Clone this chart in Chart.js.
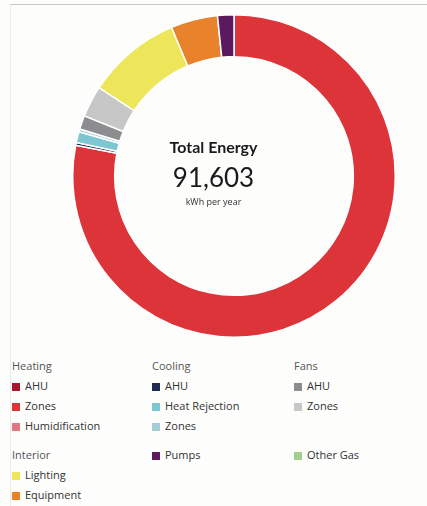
<!DOCTYPE html>
<html>
<head>
<meta charset="utf-8">
<script src="https://cdn.jsdelivr.net/npm/chart.js@4"></script>
<style>
  html, body { margin:0; padding:0; background:#fdfdfc; }
  body { width:427px; height:506px; position:relative; overflow:hidden; font-family:"Open Sans", "Noto Sans", sans-serif; }
  .frame { position:absolute; left:10px; top:4px; width:417px; height:502px; border-top:1px solid #c9c9c9; border-left:1px solid #ececec; }
  #wrap { position:absolute; left:72px; top:14px; width:324px; height:324px; }
  .center { position:absolute; left:0; width:427px; text-align:center; color:#1a1a1a; }
  .t1 { top:137px; font-family:Lato, "Open Sans", sans-serif; font-weight:700; font-size:16px; }
  .t2 { top:161px; font-family:Lato, "Open Sans", sans-serif; font-weight:400; font-size:26px; line-height:32px; }
  .t3 { top:195px; font-size:9px; color:#333; }
  .lg { position:absolute; font-size:11px; color:#333; white-space:nowrap; line-height:14px; }
  .hd { color:#555; }
  .sw { display:inline-block; width:8px; height:8px; margin-right:5px; vertical-align:-0.5px; }
</style>
</head>
<body>
<div class="frame"></div>
<div id="wrap"><canvas id="c"></canvas></div>
<div class="center t1">Total Energy</div>
<div class="center t2">91,603</div>
<div class="center t3">kWh per year</div>
<div id="legend"></div>
<script>
const categories = ["Heating AHU","Heating Zones","Humidification","Cooling AHU","Heat Rejection","Cooling Zones","Fans AHU","Fans Zones","Lighting","Equipment","Pumps","Other Gas"];
const values = [0, 71508, 0, 250, 1000, 250, 1270, 2875, 8650, 4300, 1500, 0];
const colors = ["#a3192b","#dc3439","#e17783","#1e2a50","#7ec6d2","#a5cdd6","#8d8d8f","#c7c7c7","#ede65a","#e8832c","#5b1a5f","#9fd08f"];

const legendGroups = [
  {title:"Heating", x:12, y:359, items:[["AHU",0],["Zones",1],["Humidification",2]]},
  {title:"Cooling", x:152, y:359, items:[["AHU",3],["Heat Rejection",4],["Zones",5]]},
  {title:"Fans", x:294, y:359, items:[["AHU",6],["Zones",7]]},
  {title:"Interior", x:12, y:448, items:[["Lighting",8],["Equipment",9]]},
  {title:null, x:152, y:448, items:[["Pumps",10]]},
  {title:null, x:294, y:448, items:[["Other Gas",11]]}
];
const lg = document.getElementById('legend');
legendGroups.forEach(g => {
  let y = g.y;
  if (g.title) {
    const d = document.createElement('div');
    d.className = 'lg hd'; d.style.left = g.x + 'px'; d.style.top = y + 'px';
    d.textContent = g.title; lg.appendChild(d);
    y += 20;
  }
  g.items.forEach(([label, idx]) => {
    const d = document.createElement('div');
    d.className = 'lg'; d.style.left = g.x + 'px'; d.style.top = y + 'px';
    d.innerHTML = '<span class="sw" style="background:' + colors[idx] + '"></span>' + label;
    lg.appendChild(d);
    y += 20;
  });
});

new Chart(document.getElementById('c'), {
  type: 'doughnut',
  data: { labels: categories, datasets: [{ data: values, backgroundColor: colors, borderColor: '#ffffff', borderWidth: 1.5 }] },
  options: {
    responsive: true, maintainAspectRatio: false, animation: false,
    cutout: '74%',
    layout: { padding: 0 },
    plugins: { legend: { display: false }, tooltip: { enabled: false } }
  }
});
</script>
</body>
</html>
